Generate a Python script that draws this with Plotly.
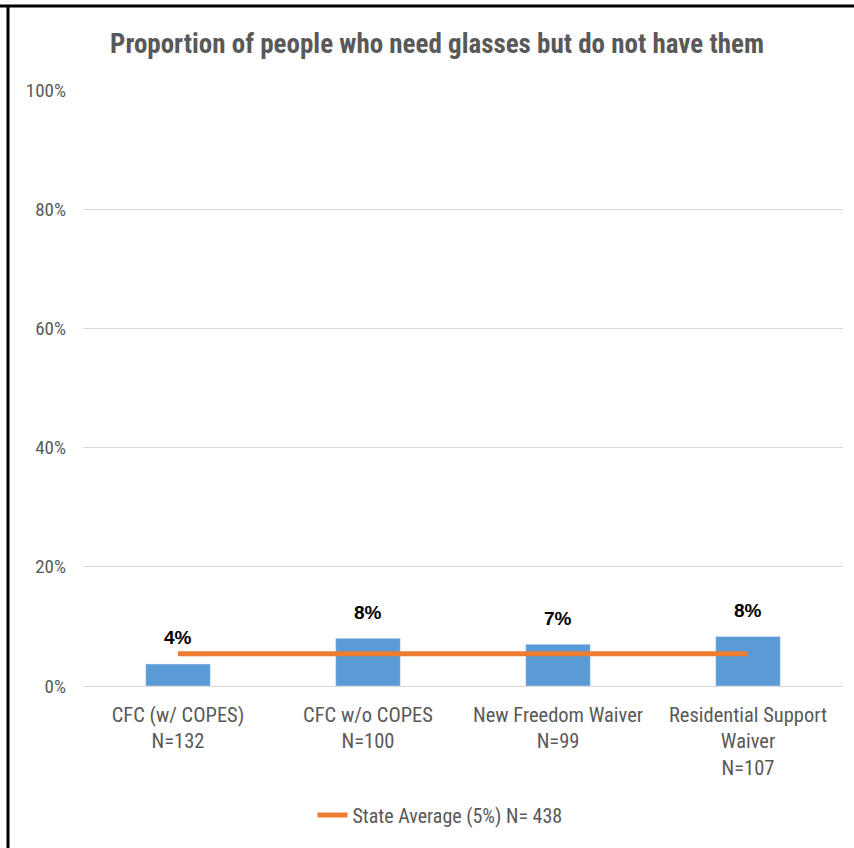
import plotly.graph_objects as go

categories = ["CFC (w/ COPES)<br>N=132", "CFC w/o COPES<br>N=100",
              "New Freedom Waiver<br>N=99", "Residential Support<br>Waiver<br>N=107"]
values = [3.7, 8.0, 7.0, 8.3]
labels = ["4%", "8%", "7%", "8%"]
state_avg = [5.4, 5.4, 5.4, 5.4]
state_name = "State Average (5%) N= 438"
y_ticks = [0, 20, 40, 60, 80, 100]
y_tick_text = ["0%", "20%", "40%", "60%", "80%", "100%"]

FONT = "Roboto Condensed, Liberation Sans, sans-serif"
BOLD_FONT = "Liberation Sans, Arial, sans-serif"
W, H = 854, 848
L, R, T, B = 83, 11, 90, 162
pw, ph = W - L - R, H - T - B

def px_x(p):
    return (p - L) / pw

def px_y(p):
    return 1 + (T - p) / ph

fig = go.Figure()
fig.add_trace(go.Bar(x=categories, y=values, marker=dict(color="#5B9BD5"),
                     width=0.34, showlegend=False, hoverinfo="skip"))
fig.add_trace(go.Scatter(x=categories, y=state_avg, mode="lines", name=state_name,
                         line=dict(color="#ED7D31", width=5)))

for c, v, t in zip(categories, values, labels):
    fig.add_annotation(x=c, y=v, text="<b>%s</b>" % t, showarrow=False,
                       yshift=26, font=dict(family=BOLD_FONT, size=19, color="#000000"))

fig.update_layout(
    width=W, height=H,
    margin=dict(l=L, r=R, t=T, b=B),
    paper_bgcolor="white", plot_bgcolor="white",
    title=dict(text="<b>Proportion of people who need glasses but do not have them</b>",
               x=px_x(437), xref="paper", xanchor="center",
               y=1 - 44 / H, yanchor="middle",
               font=dict(family=FONT, size=27, color="#595959")),
    font=dict(family=FONT, size=20, color="#595959"),
    showlegend=True,
    legend=dict(orientation="h", x=px_x(440), xanchor="center",
                y=px_y(815), yanchor="middle",
                font=dict(family=FONT, size=20, color="#595959")),
    xaxis=dict(showgrid=False, showline=True, linecolor="#D9D9D9", linewidth=1,
               ticks="", tickfont=dict(family=FONT, size=20.5, color="#595959"),
               ticklabelstandoff=10, range=[-0.5, 3.5]),
    yaxis=dict(range=[0, 100], tickmode="array", tickvals=y_ticks, ticktext=y_tick_text,
               gridcolor="#D9D9D9", gridwidth=1, zeroline=False, showline=False,
               tickfont=dict(family=FONT, size=19, color="#595959"),
               ticklabelstandoff=16),
    shapes=[
        dict(type="line", xref="paper", yref="paper", x0=px_x(0), x1=px_x(W),
             y0=px_y(6), y1=px_y(6), line=dict(color="black", width=3)),
        dict(type="line", xref="paper", yref="paper", x0=px_x(8), x1=px_x(8),
             y0=px_y(5), y1=px_y(H), line=dict(color="black", width=3)),
    ],
)

fig.write_html("out.html", config={"displayModeBar": False},
               post_script="document.body.style.margin='0';document.body.style.overflow='hidden';")
